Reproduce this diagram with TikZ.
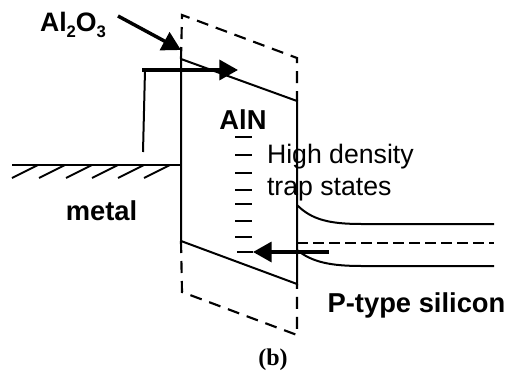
\documentclass[tikz,border=0pt]{standalone}
\usepackage{fontspec}
\setmainfont{Liberation Sans}
\newfontfamily\capfont{Liberation Serif}
\usetikzlibrary{arrows.meta}

\begin{document}
\begin{tikzpicture}[x=0.75pt, y=-0.75pt, line width = 1.5pt,
bigarrow/.style={line width = 2.6pt, -{Triangle[length=14pt,width=15pt]}},
band/.style={line width = 1.5pt},
wall/.style={line width = 1.6pt, dash pattern=on 9pt off 6pt},
label/.style={inner sep=0pt, font=\fontsize{20.5pt}{24pt}\selectfont\bfseries},
thin label/.style={inner sep=0pt, font=\fontsize{20pt}{24pt}\selectfont}]

\useasboundingbox (0,0) rectangle (505,374);

% barrier corners
\coordinate (topleft) at (181,59);
\coordinate (topright) at (297,101);
\coordinate (botleft) at (181,241);
\coordinate (botright) at (297,284);
\coordinate (dashtl) at (182,15);
\coordinate (dashtr) at (297,58);
\coordinate (dashbl) at (182,292);
\coordinate (dashbr) at (297,335);

\draw [band] (topleft) -- (topright) -- (botright) -- (botleft) -- (topleft);
\draw [wall] (topleft) -- (dashtl) -- (dashtr) -- (topright);
\draw [wall] (botleft) -- (dashbl) -- (dashbr) -- (botright);

% metal
\coordinate (metalend) at (12,165);
\coordinate (metalwall) at (181,165);
\draw [band] (metalend) -- (metalwall);
\foreach \x in {12,39,66,92,118,144}
  \draw [band] (\x,178) -- (\x+26,165);
\node [label, anchor=center] (metal) at (101.5,211) {metal};

% silicon bands
\coordinate (cbstart) at (297,205);
\coordinate (cbend) at (494,224);
\coordinate (vbstart) at (297,250);
\coordinate (vbend) at (494,266);
\coordinate (festart) at (297,243);
\coordinate (feend) at (494,243);
\draw [band] (cbstart) .. controls (312,220) and (330,224) .. (362,224) -- (cbend);
\draw [band] (vbstart) .. controls (312,262) and (330,266) .. (362,266) -- (vbend);
\draw [band, dash pattern=on 8pt off 4pt] (festart) -- (feend);
\node [label, anchor=center] (silicon) at (416.5,305) {P-type silicon};

% trap states
\foreach \y in {137,155,173,190,204,221,237}
  \draw [band] (235,\y) -- (252,\y);
\node [label, anchor=center] (aln) at (243,120) {AlN};
\node [thin label, anchor=west] (density) at (266,157) {High density};
\node [thin label, anchor=west] (trap) at (266,190) {trap states};

% oxide pointer
\node [label, anchor=west, font=\fontsize{20pt}{24pt}\selectfont\bfseries] (oxide) at (39,25) {Al\raisebox{-5pt}{\fontsize{12.5pt}{14pt}\selectfont 2}O\raisebox{-5pt}{\fontsize{12.5pt}{14pt}\selectfont 3}};
\coordinate (oxidefrom) at (118,16);
\coordinate (oxideto) at (181,50);
\draw [bigarrow] (oxidefrom) -- (oxideto);

% injection arrows
\coordinate (upfrom) at (142,70);
\coordinate (upto) at (238,70);
\coordinate (riserbot) at (143,152);
\coordinate (risertop) at (145,70);
\draw [bigarrow] (upfrom) -- (upto);
\draw [band] (riserbot) -- (risertop);
\coordinate (lowfrom) at (329,252);
\coordinate (lowto) at (253,252);
\draw [bigarrow] (lowfrom) -- (lowto);
\coordinate (lowtail) at (237,252);
\draw [band] (lowto) -- (lowtail);

\node [inner sep=0pt, font=\capfont\fontsize{18pt}{20pt}\selectfont\bfseries] (caption) at (273,360) {(b)};

\end{tikzpicture}
\end{document}
